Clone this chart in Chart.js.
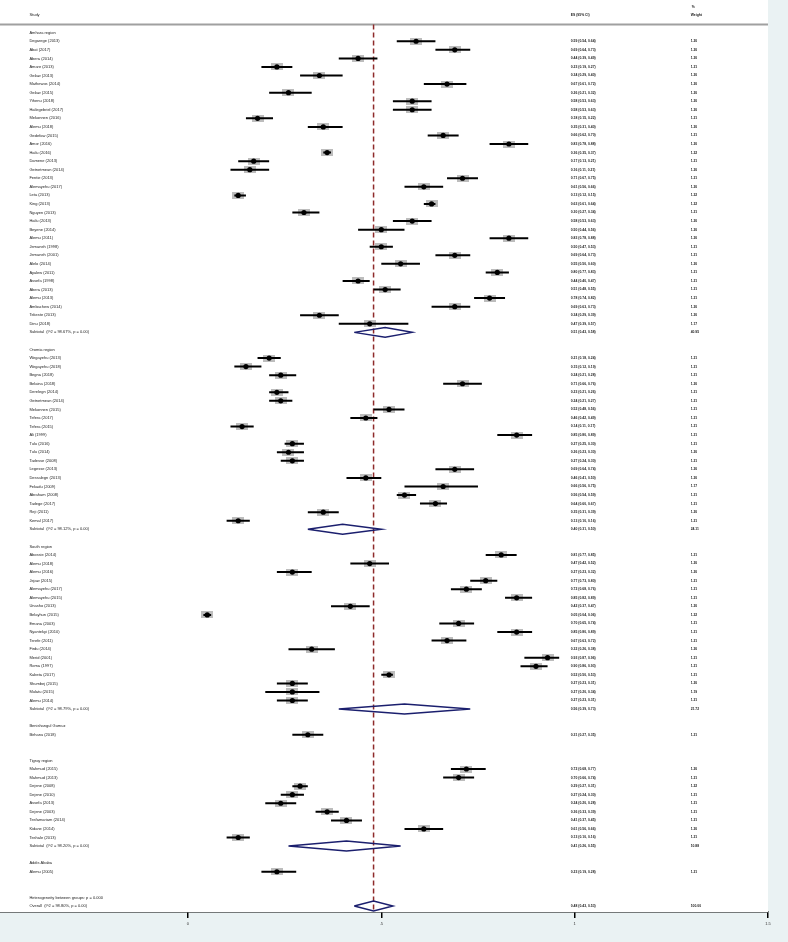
<!DOCTYPE html>
<html>
<head>
<meta charset="utf-8">
<script src="https://cdn.jsdelivr.net/npm/chart.js@4.4.1/dist/chart.umd.min.js"></script>
<style>
html, body { margin: 0; padding: 0; background: #eaf2f3; }
#wrap { width: 788px; height: 942px; }
</style>
</head>
<body>
<div id="wrap"><canvas id="forestChart"></canvas></div>
<script>
var groupNames = ['Amhara region', 'Oromia region', 'South region', 'Benishangul Gumuz', 'Tigray region', 'Addis Ababa'];
var groupSizes = [34, 20, 18, 1, 9, 1];

var studyNames = [
    'Degarege (2013)', 'Abat (2017)', 'Abera (2014)', 'Amare (2013)', 'Gelaw (2013)', 'Mathewos (2014)', 'Gelaw (2015)',
    'Yihenu (2018)', 'Hailegebriel (2017)', 'Mekonnen (2016)', 'Alemu (2018)', 'Gedefaw (2015)', 'Amor (2016)', 'Hailu (2016)',
    'Damene (2013)', 'Getnetmeun (2014)', 'Fentie (2013)', 'Alemayehu (2017)', 'Leta (2013)', 'King (2013)', 'Nguyen (2013)',
    'Hailu (2013)', 'Beyene (2014)', 'Alemu (2011)', 'Jemaneh (1998)', 'Jemaneh (2001)', 'Alelo (2014)', 'Ayalew (2011)',
    'Assefa (1998)', 'Abera (2013)', 'Alemu (2013)', 'Ambachew (2014)', 'Tekeste (2013)', 'Dinu (2018)',
    'Wegayehu (2013)', 'Wegayehu (2018)', 'Begna (2018)', 'Belaina (2018)', 'Derelegn (2014)', 'Getnetmeun (2014)',
    'Mekonnen (2015)', 'Tefera (2017)', 'Tefera (2015)', 'Ali (1999)', 'Tulu (2016)', 'Tulu (2014)', 'Tadesse (2008)',
    'Legesse (2013)', 'Dessalegn (2013)', 'Fekadu (2009)', 'Abraham (2008)', 'Tadege (2017)', 'Reji (2011)', 'Kemal (2017)',
    'Abossie (2014)', 'Alemu (2018)', 'Alemu (2016)', 'Jejaw (2015)', 'Alemayehu (2017)', 'Alemayehu (2015)', 'Unasho (2013)',
    'Belayhun (2015)', 'Emana (2003)', 'Nyantekyi (2010)', 'Terefe (2011)', 'Firdu (2014)', 'Merid (2001)', 'Roma (1997)',
    'Kabeta (2017)', 'Shumbej (2015)', 'Mulatu (2015)', 'Alemu (2014)',
    'Birhanu (2018)',
    'Mahmud (2015)', 'Mahmud (2013)', 'Dejene (2008)', 'Dejene (2010)', 'Assefa (2013)', 'Dejene (2003)', 'Tesfamariam (2014)',
    'Kidane (2014)', 'Teshale (2013)',
    'Alemu (2005)'
];

var studyES = [
    0.59, 0.69, 0.44, 0.23, 0.34, 0.67, 0.26, 0.58, 0.58, 0.18, 0.35, 0.66, 0.83, 0.36, 0.17, 0.16, 0.71, 0.61, 0.13, 0.63,
    0.30, 0.58, 0.50, 0.83, 0.50, 0.69, 0.55, 0.80, 0.44, 0.51, 0.78, 0.69, 0.34, 0.47,
    0.21, 0.15, 0.24, 0.71, 0.23, 0.24, 0.52, 0.46, 0.14, 0.85, 0.27, 0.26, 0.27, 0.69, 0.46, 0.66, 0.56, 0.64, 0.35, 0.13,
    0.81, 0.47, 0.27, 0.77, 0.72, 0.85, 0.42, 0.05, 0.70, 0.85, 0.67, 0.32, 0.93, 0.90, 0.52, 0.27, 0.27, 0.27,
    0.31,
    0.72, 0.70, 0.29, 0.27, 0.24, 0.36, 0.41, 0.61, 0.13,
    0.23
];
var studyLo = [
    0.54, 0.64, 0.39, 0.19, 0.29, 0.61, 0.21, 0.53, 0.53, 0.15, 0.31, 0.62, 0.78, 0.35, 0.13, 0.11, 0.67, 0.56, 0.12, 0.61,
    0.27, 0.53, 0.44, 0.78, 0.47, 0.64, 0.50, 0.77, 0.40, 0.48, 0.74, 0.63, 0.29, 0.39,
    0.18, 0.12, 0.21, 0.66, 0.21, 0.21, 0.48, 0.42, 0.11, 0.80, 0.25, 0.23, 0.24, 0.64, 0.41, 0.56, 0.54, 0.60, 0.31, 0.10,
    0.77, 0.42, 0.23, 0.73, 0.68, 0.82, 0.37, 0.04, 0.65, 0.80, 0.63, 0.26, 0.87, 0.86, 0.50, 0.23, 0.20, 0.23,
    0.27,
    0.68, 0.66, 0.27, 0.24, 0.20, 0.33, 0.37, 0.56, 0.10,
    0.19
];
var studyHi = [
    0.64, 0.73, 0.49, 0.27, 0.40, 0.72, 0.32, 0.63, 0.63, 0.22, 0.40, 0.70, 0.88, 0.37, 0.21, 0.21, 0.75, 0.66, 0.15, 0.64,
    0.34, 0.63, 0.56, 0.88, 0.53, 0.73, 0.60, 0.83, 0.47, 0.55, 0.82, 0.73, 0.39, 0.57,
    0.24, 0.19, 0.28, 0.76, 0.26, 0.27, 0.56, 0.49, 0.17, 0.89, 0.30, 0.30, 0.30, 0.74, 0.50, 0.75, 0.59, 0.67, 0.39, 0.16,
    0.85, 0.52, 0.32, 0.80, 0.76, 0.89, 0.47, 0.06, 0.74, 0.89, 0.72, 0.38, 0.96, 0.93, 0.53, 0.31, 0.34, 0.31,
    0.35,
    0.77, 0.74, 0.31, 0.30, 0.28, 0.39, 0.45, 0.66, 0.16,
    0.28
];
var studyWeight = [
    '1.20', '1.20', '1.20', '1.21', '1.20', '1.20', '1.20', '1.20', '1.20', '1.21', '1.20', '1.21', '1.20', '1.22', '1.21',
    '1.20', '1.21', '1.20', '1.22', '1.22', '1.21', '1.20', '1.20', '1.20', '1.21', '1.21', '1.20', '1.21', '1.21', '1.21',
    '1.21', '1.20', '1.20', '1.17',
    '1.21', '1.21', '1.21', '1.20', '1.21', '1.21', '1.21', '1.21', '1.21', '1.21', '1.21', '1.20', '1.21', '1.20', '1.20',
    '1.17', '1.21', '1.21', '1.20', '1.21',
    '1.21', '1.20', '1.20', '1.21', '1.21', '1.21', '1.20', '1.22', '1.21', '1.21', '1.21', '1.20', '1.21', '1.21', '1.21',
    '1.20', '1.19', '1.21',
    '1.21',
    '1.20', '1.21', '1.22', '1.21', '1.21', '1.21', '1.21', '1.20', '1.21',
    '1.21'
];

// subgroup pooled estimates (null = single-study group, no subtotal shown)
var subES = [0.51, 0.40, 0.56, null, 0.41, null];
var subLo = [0.43, 0.31, 0.39, null, 0.26, null];
var subHi = [0.58, 0.50, 0.73, null, 0.55, null];
var subWeight = ['40.95', '24.11', '21.72', null, '10.88', null];
var subI2 = ['98.67', '98.12', '98.79', null, '98.20', null];

var overallES = 0.48, overallLo = 0.43, overallHi = 0.53;
var overallI2 = '98.80';
var hetBetweenP = '0.000';

var xTicks = [0, 0.5, 1, 1.5];
var xTickLabels = ['0', '.5', '1', '1.5'];

// columns, in x-axis units
var labelCol = -0.41, esCol = 0.99, weightCol = 1.30;

// ---- build row positions ----
var studyRow = [], headerRow = [], subRow = [];
var r = 0;
groupNames.forEach(function (g, gi) {
    headerRow.push(r); r++;
    for (var j = 0; j < groupSizes[gi]; j++) { studyRow.push(r); r++; }
    subRow.push(r); r++;
    r++;
});
var hetRow = r, overallRow = r + 1;

var fmt = function (v) { return v.toFixed(2); };
var esText = function (e, l, h) { return fmt(e) + ' (' + fmt(l) + ', ' + fmt(h) + ')'; };

var ciData = [], boxData = [], pointData = [], diamondData = [];
studyES.forEach(function (e, i) {
    ciData.push({ x: studyLo[i], y: studyRow[i] }, { x: studyHi[i], y: studyRow[i] }, { x: null, y: null });
    boxData.push({ x: e, y: studyRow[i] });
    pointData.push({ x: e, y: studyRow[i] });
});
var dh = 0.58;
function addDiamond(e, l, h, row) {
    diamondData.push({ x: l, y: row }, { x: e, y: row - dh }, { x: h, y: row }, { x: e, y: row + dh }, { x: l, y: row }, { x: null, y: null });
}
subES.forEach(function (e, gi) {
    if (e !== null) addDiamond(e, subLo[gi], subHi[gi], subRow[gi]);
});
addDiamond(overallES, overallLo, overallHi, overallRow);

var yMin = -3.82, yMax = 102.7;

// grey weight box
var boxImg = document.createElement('canvas');
boxImg.width = 12; boxImg.height = 7;
var bctx = boxImg.getContext('2d');
bctx.fillStyle = '#bdbdbd';
bctx.fillRect(0, 0, 12, 7);

var forestText = {
    id: 'forestText',
    beforeDatasetsDraw: function (chart) {
        var c = chart.ctx, a = chart.chartArea, y = chart.scales.y;
        c.save();
        c.fillStyle = '#ffffff';
        c.fillRect(a.left, a.top, a.right - a.left, a.bottom - a.top);
        c.strokeStyle = '#a0a0a0';
        c.lineWidth = 2;
        c.beginPath();
        var hy = y.getPixelForValue(-0.95);
        c.moveTo(a.left, hy);
        c.lineTo(a.right, hy);
        c.stroke();
        c.restore();
    },
    afterDatasetsDraw: function (chart) {
        var c = chart.ctx, x = chart.scales.x, y = chart.scales.y;
        var lx = x.getPixelForValue(labelCol), ex = x.getPixelForValue(esCol), wx = x.getPixelForValue(weightCol);
        c.save();
        c.fillStyle = '#222';
        c.textBaseline = 'middle';
        c.textAlign = 'left';
        var lf = '4px "Liberation Sans", Arial, sans-serif';
        var nf = 'bold 3.4px "Liberation Sans", Arial, sans-serif';

        c.font = lf;
        c.fillText('Study', lx, y.getPixelForValue(-2.05));
        c.font = nf;
        c.fillText('ES (95% CI)', ex, y.getPixelForValue(-2.05));
        c.fillText('%', wx + 1, y.getPixelForValue(-3.05));
        c.fillText('Weight', wx, y.getPixelForValue(-2.05));

        groupNames.forEach(function (g, gi) {
            c.font = lf;
            c.fillText(g, lx, y.getPixelForValue(headerRow[gi]));
            if (subES[gi] !== null) {
                var sy = y.getPixelForValue(subRow[gi]);
                c.fillText('Subtotal  (I^2 = ' + subI2[gi] + '%, p = 0.00)', lx, sy);
                c.font = nf;
                c.fillText(esText(subES[gi], subLo[gi], subHi[gi]), ex, sy);
                c.fillText(subWeight[gi], wx, sy);
            }
        });
        studyNames.forEach(function (s, i) {
            var sy = y.getPixelForValue(studyRow[i]);
            c.font = lf;
            c.fillText(s, lx, sy);
            c.font = nf;
            c.fillText(esText(studyES[i], studyLo[i], studyHi[i]), ex, sy);
            c.fillText(studyWeight[i], wx, sy);
        });
        c.font = lf;
        c.fillText('Heterogeneity between groups: p = ' + hetBetweenP, lx, y.getPixelForValue(hetRow));
        var oy = y.getPixelForValue(overallRow);
        c.fillText('Overall  (I^2 = ' + overallI2 + '%, p = 0.00)', lx, oy);
        c.font = nf;
        c.fillText(esText(overallES, overallLo, overallHi), ex, oy);
        c.fillText('100.00', wx, oy);
        c.restore();
    }
};

var ctx = document.getElementById('forestChart').getContext('2d');

var forestChart = new Chart(ctx, {
    type: 'scatter',
    data: {
        datasets: [
            {
                type: 'scatter',
                data: pointData,
                pointStyle: 'circle',
                pointRadius: 2.6,
                backgroundColor: '#000000',
                borderWidth: 0,
                order: 0
            },
            {
                type: 'line',
                data: ciData,
                borderColor: '#000000',
                borderWidth: 2,
                pointRadius: 0,
                spanGaps: false,
                fill: false,
                order: 1
            },
            {
                type: 'line',
                data: diamondData,
                borderColor: '#1b1f6e',
                borderWidth: 1.5,
                pointRadius: 0,
                spanGaps: false,
                fill: false,
                order: 2
            },
            {
                type: 'scatter',
                data: boxData,
                pointStyle: boxImg,
                order: 3
            },
            {
                type: 'line',
                data: [{ x: overallES, y: -0.95 }, { x: overallES, y: yMax }],
                borderColor: '#8e2a2a',
                borderWidth: 1.5,
                borderDash: [5, 3],
                pointRadius: 0,
                fill: false,
                order: 4
            }
        ]
    },
    options: {
        responsive: true,
        maintainAspectRatio: false,
        animation: false,
        layout: {
            autoPadding: false,
            padding: { left: 0, right: 20, top: 0, bottom: 0 }
        },
        plugins: {
            legend: { display: false },
            tooltip: { enabled: false }
        },
        scales: {
            x: {
                type: 'linear',
                min: -0.486,
                max: 1.5,
                afterBuildTicks: function (scale) {
                    scale.ticks = xTicks.map(function (v) { return { value: v }; });
                },
                afterFit: function (scale) {
                    scale.height = 30;
                },
                ticks: {
                    autoSkip: false,
                    maxRotation: 0,
                    padding: 3,
                    color: '#333',
                    font: { size: 4, family: '"Liberation Sans", Arial, sans-serif' },
                    callback: function (v) {
                        var i = xTicks.indexOf(v);
                        return i >= 0 ? xTickLabels[i] : '';
                    }
                },
                grid: {
                    drawOnChartArea: false,
                    drawTicks: true,
                    tickLength: 6,
                    color: '#000000',
                    lineWidth: 1.5
                },
                border: {
                    display: true,
                    color: '#000000',
                    width: 1.5
                }
            },
            y: {
                type: 'linear',
                display: false,
                reverse: true,
                min: yMin,
                max: yMax
            }
        }
    },
    plugins: [forestText]
});
</script>
</body>
</html>
